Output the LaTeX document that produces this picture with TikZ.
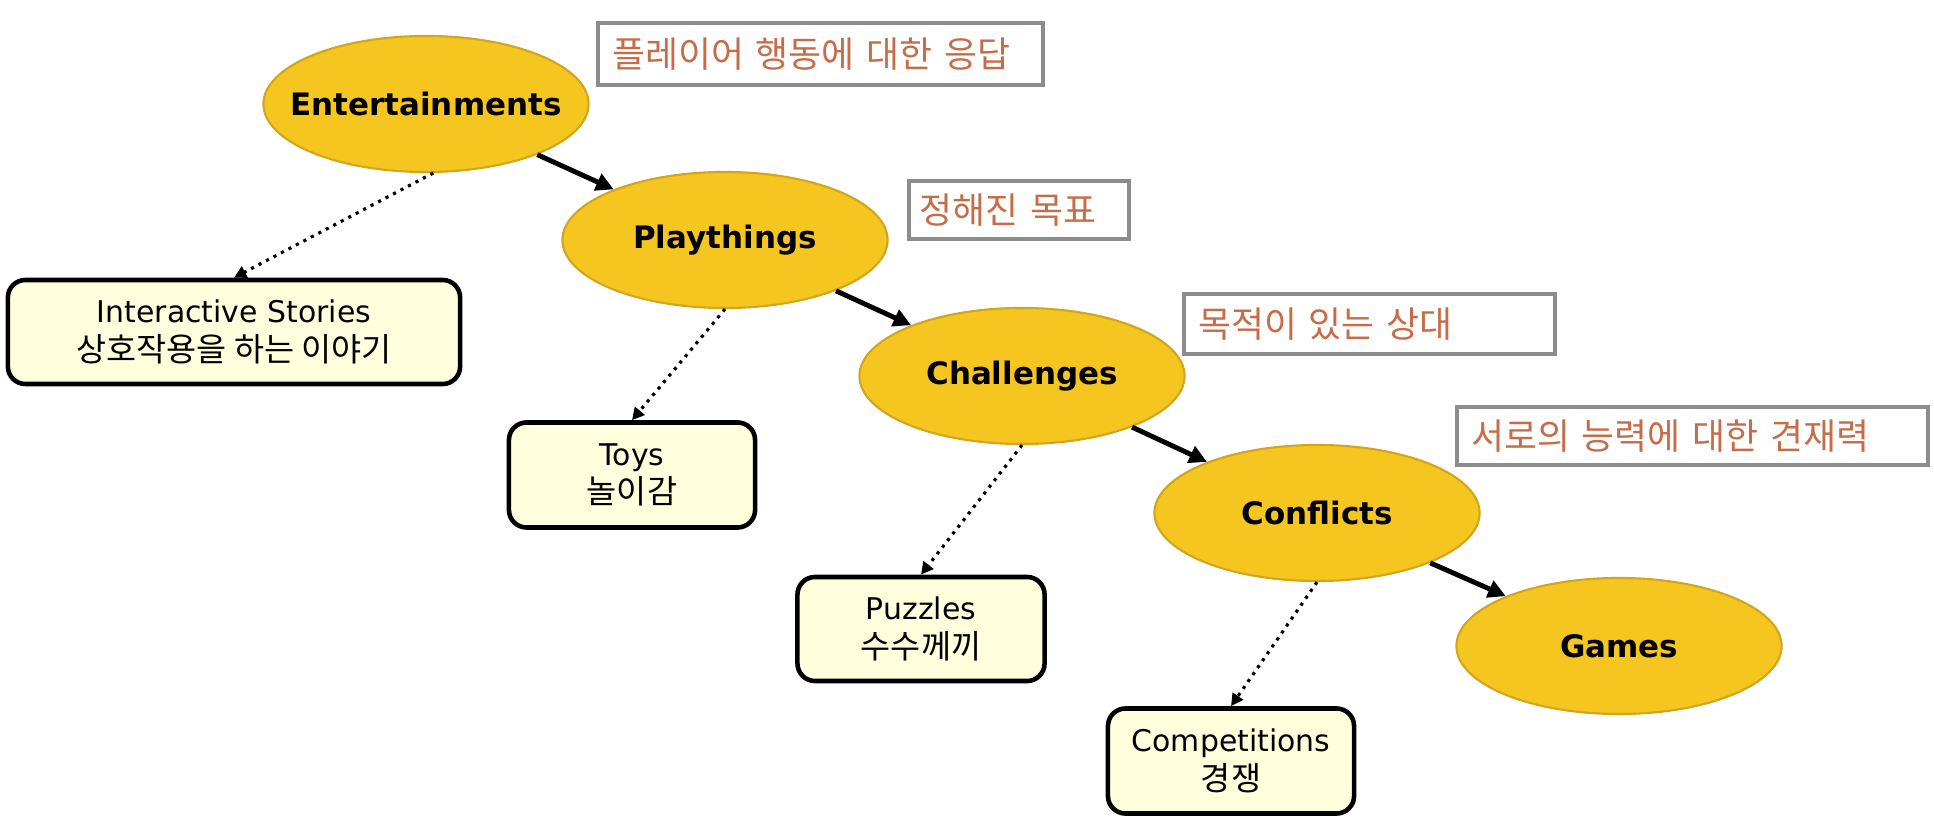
\documentclass[tikz,border=0pt]{standalone}
\usepackage{fontspec}
\setmainfont{DejaVu Sans}
\newfontfamily\krfont{Noto Sans CJK KR}
\usepackage{tikz}
\usetikzlibrary{arrows.meta, positioning, shapes.geometric}
\definecolor{goldfill}{RGB}{245,197,32}
\definecolor{golddraw}{RGB}{210,165,30}
\definecolor{creamfill}{RGB}{255,255,222}
\definecolor{notegray}{RGB}{140,140,140}
\definecolor{notetext}{RGB}{198,108,72}
\newcommand{\kr}[1]{{\krfont\fontsize{9.3}{10.5}\selectfont #1}}
\tikzset{
	stagenode/.style={ellipse, draw=golddraw, fill=goldfill, line width=0.6pt, minimum width=3.25cm, minimum height=1.36cm, inner xsep=-8pt, inner ysep=0pt, font=\fontsize{8.8}{10}\selectfont\bfseries},
	kindbox/.style={draw, rounded corners=5pt, line width=1.3pt, fill=creamfill, align=center, inner sep=0pt, font=\fontsize{8.5}{11}\selectfont},
	notebox/.style={draw=notegray, line width=1.1pt, fill=white, text=notetext, anchor=north west, inner xsep=4pt, text width=#1, align=left, font=\krfont\fontsize{10.2}{12}\selectfont},
	steparr/.style={-{Triangle[length=5pt,width=5pt]}, line width=1.4pt},
	kindarr/.style={-{Triangle[length=3.5pt,width=3.5pt]}, line width=0.9pt, dash pattern=on 0.9pt off 1.5pt},
}
\begin{document}
\begin{tikzpicture}[x=0.01cm, y=-0.01cm]
	\useasboundingbox (0,0) rectangle (1934,822);
	% stages
	\node[stagenode] (ent) at (426,104) {Entertainments};
	\node[stagenode] (play) at (725,240) {Playthings};
	\node[stagenode] (chal) at (1022,376) {Challenges};
	\node[stagenode] (conf) at (1317,513) {Conflicts};
	\node[stagenode] (game) at (1619,646) {Games};
	% kinds
	\node[kindbox, minimum width=4.52cm, minimum height=1.04cm] (story) at (234,332) {Interactive Stories\\\kr{상호작용을 하는 이야기}};
	\node[kindbox, minimum width=2.46cm, minimum height=1.05cm] (toy) at (632,475) {Toys\\\kr{놀이감}};
	\node[kindbox, minimum width=2.47cm, minimum height=1.04cm] (puzzle) at (921,629) {Puzzles\\\kr{수수께끼}};
	\node[kindbox, minimum width=2.46cm, minimum height=1.05cm] (compet) at (1231,761) {Competitions\\\kr{경쟁}};
	% notes
	\node[notebox=4.17cm, minimum height=0.62cm] (note1) at (596,21) {플레이어 행동에 대한 응답};
	\node[notebox=1.99cm, inner xsep=3pt, minimum height=0.58cm] (note2) at (907,179) {정해진 목표};
	\node[notebox=3.43cm, minimum height=0.6cm] (note3) at (1182,292) {목적이 있는 상대};
	\node[notebox=4.43cm, minimum height=0.58cm] (note4) at (1455,405) {서로의 능력에 대한 견재력};
	% connectors
	\draw[steparr] (ent) -- (play);
	\draw[steparr] (play) -- (chal);
	\draw[steparr] (chal) -- (conf);
	\draw[steparr] (conf) -- (game);
	\draw[kindarr] (ent.-84) -- (story.north);
	\draw[kindarr] (play.south) -- (toy.north);
	\draw[kindarr] (chal.south) -- (puzzle.north);
	\draw[kindarr] (conf.south) -- (compet.north);
\end{tikzpicture}
\end{document}
